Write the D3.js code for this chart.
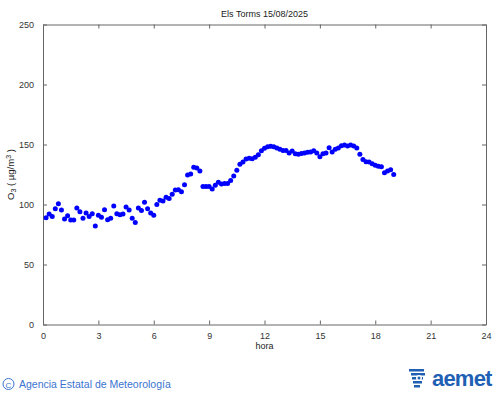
<!DOCTYPE html>
<html>
<head>
<meta charset="utf-8">
<script src="https://cdn.jsdelivr.net/npm/d3@7"></script>
<style>
  body { margin: 0; background: #fff; }
  svg { display: block; font-family: "Liberation Sans", Arial, sans-serif; }
</style>
</head>
<body>
<div id="chart"></div>
<script>
// O3 readings every 10 minutes, starting at 00:10
const o3Values = [
  89, 92, 90, 96.5, 100.7, 95.4, 88, 90.7, 87, 87,
  97, 94, 88.5, 93, 90, 92.3, 82, 91, 89.3, 95.7,
  87.3, 88.5, 98.7, 92.3, 91.5, 92, 97.9, 95.4, 88.5, 85,
  97, 95, 101.8, 96.5, 93, 91, 100, 103.5, 103, 106,
  105, 108.5, 112, 112.3, 110.7, 116.5, 124.6, 125.5, 131, 130.4,
  128, 115, 115, 115, 113, 116, 118.5, 117, 117.6, 117.4,
  120, 123.7, 128.5, 133.5, 135.4, 138, 138.5, 138.2, 139.3, 141.5,
  144.8, 146.8, 148.2, 148.5, 148.2, 147, 146, 145, 145, 143,
  144.6, 142.3, 141.8, 142.6, 143, 143.5, 143.7, 144.8, 143, 139.8,
  142.3, 143, 147.3, 143.7, 146, 147, 149, 149.6, 148.8, 149.6,
  148.8, 147, 141.8, 137.4, 135.7, 135.4, 134, 132.7, 131.8, 131.5,
  126.5, 128, 129, 125
];
const xTicks = [0, 3, 6, 9, 12, 15, 18, 21, 24];
const yTicks = [0, 50, 100, 150, 200, 250];
const title = "Els Torms 15/08/2025";

const data = o3Values.map((v, i) => ({ hour: (i + 1) / 6, value: v }));

const width = 500, height = 395;
const margin = { top: 24.5, right: 14, bottom: 70.5, left: 43 };

const svg = d3.select("#chart").append("svg")
  .attr("width", width)
  .attr("height", height);

const x = d3.scaleLinear().domain([0, 24]).range([margin.left, width - margin.right]);
const y = d3.scaleLinear().domain([0, 250]).range([height - margin.bottom, margin.top]);

const axisColor = "#666";

function styleAxis(g) {
  g.select(".domain").attr("stroke", axisColor);
  g.selectAll(".tick line").attr("stroke", axisColor);
  g.selectAll(".tick text").attr("fill", "#333").attr("font-size", 9);
}

// bottom & top axes (ticks inward)
svg.append("g")
  .attr("transform", `translate(0,${y(0)})`)
  .call(d3.axisBottom(x).tickValues(xTicks).tickSize(-4).tickPadding(8).tickSizeOuter(0))
  .call(styleAxis);
svg.append("g")
  .attr("transform", `translate(0,${y(250)})`)
  .call(d3.axisTop(x).tickValues(xTicks).tickSize(-4).tickFormat("").tickSizeOuter(0))
  .call(styleAxis);

// left & right axes (ticks inward)
svg.append("g")
  .attr("transform", `translate(${x(0)},0)`)
  .call(d3.axisLeft(y).tickValues(yTicks).tickSize(-4).tickPadding(9).tickSizeOuter(0))
  .call(styleAxis);
svg.append("g")
  .attr("transform", `translate(${x(24)},0)`)
  .call(d3.axisRight(y).tickValues(yTicks).tickSize(-4).tickFormat("").tickSizeOuter(0))
  .call(styleAxis);

// points
svg.append("g")
  .selectAll("circle")
  .data(data)
  .join("circle")
  .attr("cx", d => x(d.hour))
  .attr("cy", d => y(d.value))
  .attr("r", 2.5)
  .attr("fill", "#0000ff");

// title & labels
svg.append("text")
  .attr("x", (x(0) + x(24)) / 2)
  .attr("y", 17)
  .attr("text-anchor", "middle")
  .attr("font-size", 9)
  .attr("fill", "#222")
  .text(title);

svg.append("text")
  .attr("x", (x(0) + x(24)) / 2)
  .attr("y", 349)
  .attr("text-anchor", "middle")
  .attr("font-size", 9)
  .attr("fill", "#222")
  .text("hora");

const ylab = svg.append("text")
  .attr("transform", `translate(14,${y(125)}) rotate(-90)`)
  .attr("text-anchor", "middle")
  .attr("font-size", 9.5)
  .attr("fill", "#222");
ylab.append("tspan").text("O");
ylab.append("tspan").attr("font-size", 7).attr("dy", 2).text("3");
ylab.append("tspan").attr("dy", -2).text(" ( µg/m");
ylab.append("tspan").attr("font-size", 7).attr("dy", -3).text("3");
ylab.append("tspan").attr("dy", 3).text(" )");

// footer
const footBlue = "#3a73d0";
svg.append("circle")
  .attr("cx", 8.5).attr("cy", 384).attr("r", 5.5)
  .attr("fill", "none").attr("stroke", footBlue).attr("stroke-width", 1);
svg.append("text")
  .attr("x", 8.5).attr("y", 387.5)
  .attr("text-anchor", "middle")
  .attr("font-size", 8)
  .attr("fill", footBlue)
  .text("C");
svg.append("text")
  .attr("x", 19).attr("y", 388)
  .attr("font-size", 10.5)
  .attr("fill", footBlue)
  .text("Agencia Estatal de Meteorología");

// aemet logo
const logoBlue = "#1f5fb4";
const logo = svg.append("g").attr("transform", "translate(409,369)");
[[0, 0, 15], [2, 4, 14], [3, 8, 11], [4, 12, 9], [5, 16, 6]].forEach(([dx, dy, w]) => {
  logo.append("rect").attr("x", dx).attr("y", dy).attr("width", w).attr("height", 2.5)
    .attr("fill", logoBlue);
});
logo.append("circle").attr("cx", 10).attr("cy", 9).attr("r", 3).attr("fill", "#fff");
logo.append("circle").attr("cx", 10).attr("cy", 9).attr("r", 1.5).attr("fill", logoBlue);
logo.append("text")
  .attr("x", 23).attr("y", 17)
  .attr("font-size", 22)
  .attr("font-weight", "bold")
  .attr("fill", logoBlue)
  .attr("letter-spacing", -0.8)
  .text("aemet");
</script>
</body>
</html>
